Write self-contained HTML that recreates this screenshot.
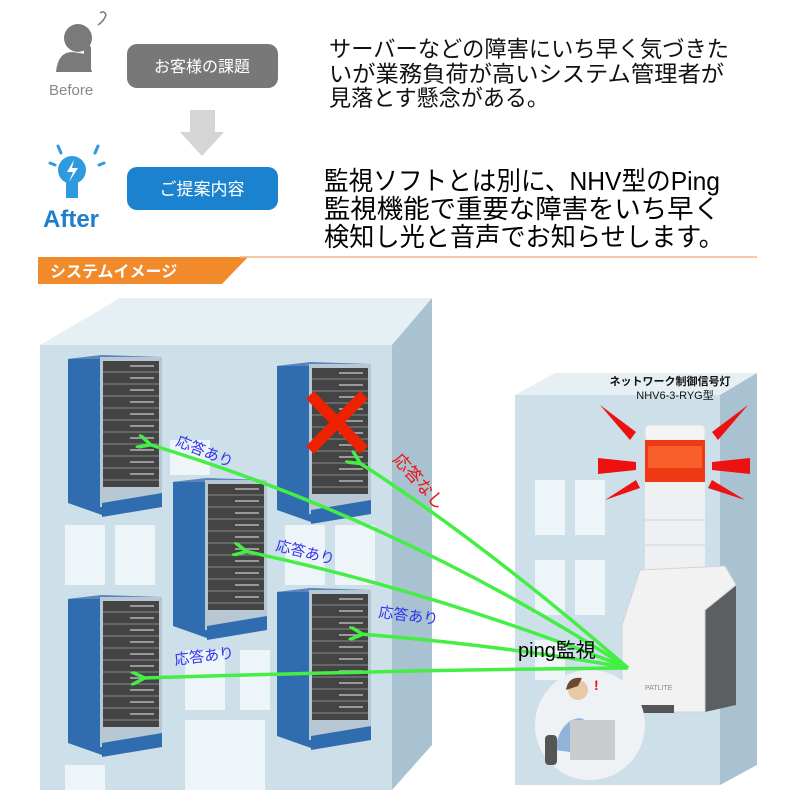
<!DOCTYPE html>
<html><head><meta charset="utf-8"><style>
body{margin:0;background:#fff;}
svg text{font-family:"Liberation Sans","Noto Sans CJK JP",sans-serif;}
</style></head><body>
<svg width="800" height="800" viewBox="0 0 800 800" xmlns="http://www.w3.org/2000/svg">
<defs>
<g id="rack">
  <polygon points="0,4 34,0 34,160 0,148" fill="#2f6db0"/>
  <polygon points="0,4 34,0 94,2 94,6 34,4" fill="#5a86bd"/>
  <rect x="32" y="2" width="62" height="150" fill="#b7c7d3"/>
  <rect x="35" y="6" width="56" height="126" fill="#444"/>
  <g stroke="#8a8a8a" stroke-width="1">
    <line x1="35" y1="17" x2="91" y2="17"/><line x1="35" y1="29" x2="91" y2="29"/>
    <line x1="35" y1="41" x2="91" y2="41"/><line x1="35" y1="53" x2="91" y2="53"/>
    <line x1="35" y1="65" x2="91" y2="65"/><line x1="35" y1="77" x2="91" y2="77"/>
    <line x1="35" y1="89" x2="91" y2="89"/><line x1="35" y1="101" x2="91" y2="101"/>
    <line x1="35" y1="113" x2="91" y2="113"/><line x1="35" y1="125" x2="91" y2="125"/>
  </g>
  <g fill="#999"><rect x="62" y="10" width="24" height="2"/><rect x="62" y="22" width="24" height="2"/><rect x="62" y="34" width="24" height="2"/><rect x="62" y="46" width="24" height="2"/><rect x="62" y="58" width="24" height="2"/><rect x="62" y="70" width="24" height="2"/><rect x="62" y="82" width="24" height="2"/><rect x="62" y="94" width="24" height="2"/><rect x="62" y="106" width="24" height="2"/><rect x="62" y="118" width="24" height="2"/></g>
  <polygon points="34,148 94,138 94,152 34,162" fill="#2f6db0"/>
</g>
<marker id="ah" viewBox="0 0 10 10" refX="2" refY="5" markerWidth="4" markerHeight="4" orient="auto-start-reverse"><path d="M10,0 L0,5 L10,10" fill="none" stroke="#44ee44" stroke-width="2.5"/></marker>
</defs>

<!-- header -->
<circle cx="78" cy="38" r="14" fill="#7a7a7a"/>
<path d="M56,72 Q58,52 72,52 L86,54 L92,72 Z" fill="#7a7a7a"/>
<rect x="84" y="45" width="7" height="27" rx="3" fill="#7a7a7a"/>
<path d="M98,25 q6,-4 8,-10 q-2,-5 -6,-2" fill="none" stroke="#7a7a7a" stroke-width="1.5"/>
<text x="49" y="95" font-size="15" fill="#888">Before</text>
<rect x="127" y="44" width="151" height="44" rx="10" fill="#787878"/>
<text x="202" y="72" font-size="16" fill="#fff" text-anchor="middle">お客様の課題</text>
<polygon points="190,110 215,110 215,132 224,132 202,156 180,132 190,132" fill="#d5d5d5"/>
<circle cx="72" cy="170" r="14" fill="#2e9be0"/>
<rect x="66" y="180" width="12" height="18" fill="#2e9be0"/>
<polygon points="74,160 67,172 73,172 69,182 78,168 72,168" fill="#fff"/>
<g stroke="#2e9be0" stroke-width="3" stroke-linecap="round"><line x1="58" y1="146" x2="61" y2="153"/><line x1="98" y1="146" x2="95" y2="153"/><line x1="50" y1="163" x2="55" y2="165"/><line x1="104" y1="163" x2="99" y2="165"/></g>
<text x="43" y="227" font-size="24" font-weight="bold" fill="#1f7fcc">After</text>
<rect x="127" y="167" width="151" height="43" rx="10" fill="#1a82cf"/>
<text x="202" y="195" font-size="17" fill="#fff" text-anchor="middle">ご提案内容</text>

<g font-size="22.5" fill="#111">
<text x="329" y="57" textLength="400" lengthAdjust="spacingAndGlyphs">サーバーなどの障害にいち早く気づきた</text>
<text x="329" y="82" textLength="395" lengthAdjust="spacingAndGlyphs">いが業務負荷が高いシステム管理者が</text>
<text x="329" y="106" textLength="220" lengthAdjust="spacingAndGlyphs">見落とす懸念がある。</text>
</g>
<g font-size="26" fill="#000">
<text x="324" y="190" textLength="396" lengthAdjust="spacingAndGlyphs">監視ソフトとは別に、NHV型のPing</text>
<text x="324" y="218" textLength="396" lengthAdjust="spacingAndGlyphs">監視機能で重要な障害をいち早く</text>
<text x="324" y="246" textLength="400" lengthAdjust="spacingAndGlyphs">検知し光と音声でお知らせします。</text>
</g>
<polygon points="38,257 248,257 222,284 38,284" fill="#f08a2a"/>
<line x1="240" y1="257" x2="757" y2="257" stroke="#f3b58a" stroke-width="1.5"/>
<text x="50" y="277" font-size="16" font-weight="bold" fill="#fff">システムイメージ</text>

<!-- building 1 -->
<polygon points="40,345 120,298 432,298 392,345" fill="#e6eff4"/>
<polygon points="392,345 432,298 432,745 392,790" fill="#a9c2d2"/>
<rect x="40" y="345" width="352" height="445" fill="#cddfe9"/>
<g fill="#eef5f8">
<rect x="65" y="525" width="40" height="60"/><rect x="115" y="525" width="40" height="60"/><rect x="185" y="650" width="40" height="60"/>
<rect x="240" y="650" width="30" height="60"/><rect x="285" y="525" width="40" height="60"/><rect x="335" y="525" width="40" height="60"/>
<rect x="65" y="765" width="40" height="25"/><rect x="185" y="720" width="80" height="70"/>
<rect x="290" y="455" width="40" height="50"/><rect x="170" y="440" width="40" height="35"/>
</g>
<!-- building 2 -->
<polygon points="515,395 555,373 757,373 720,395" fill="#e6eff4"/>
<polygon points="720,395 757,373 757,765 720,785" fill="#a9c2d2"/>
<rect x="515" y="395" width="205" height="390" fill="#cddfe9"/>
<g fill="#eef5f8"><rect x="535" y="480" width="30" height="55"/><rect x="575" y="480" width="30" height="55"/><rect x="535" y="560" width="30" height="55"/><rect x="575" y="560" width="30" height="55"/><rect x="535" y="640" width="30" height="40"/></g>

<use href="#rack" x="68" y="355"/>
<use href="#rack" x="277" y="362"/>
<use href="#rack" x="173" y="478"/>
<use href="#rack" x="68" y="595"/>
<use href="#rack" x="277" y="588"/>
<g stroke="#ee2200" stroke-width="11"><line x1="310" y1="395" x2="364" y2="450"/><line x1="364" y1="395" x2="310" y2="450"/></g>

<!-- tower -->
<g fill="#ee1111">
<polygon points="600,405 636,432 630,440"/><polygon points="598,458 636,462 636,470 598,474"/>
<polygon points="605,500 636,480 640,488"/>
<polygon points="748,405 712,432 718,440"/><polygon points="750,458 712,462 712,470 750,474"/>
<polygon points="745,500 712,480 708,488"/>
</g>
<rect x="645" y="425" width="60" height="16" rx="4" fill="#f4f4f4" stroke="#ddd"/>
<rect x="645" y="440" width="60" height="42" fill="#ee3a14"/>
<rect x="648" y="446" width="54" height="22" fill="#ff7a3a" opacity="0.6"/>
<rect x="645" y="482" width="60" height="90" fill="#eef0f1"/>
<g stroke="#cfd4d6"><line x1="645" y1="520" x2="705" y2="520"/><line x1="645" y1="545" x2="705" y2="545"/></g>
<polygon points="705,575 736,585 736,705 705,712" fill="#5c5f62"/>
<polygon points="622,625 640,570 725,566 736,585 705,610 705,712 622,712" fill="#f2f2f2" stroke="#d4d4d4"/>
<rect x="628" y="705" width="46" height="8" fill="#555"/>
<text x="645" y="690" font-size="7" fill="#888">PATLITE</text>
<text x="670" y="385" font-size="11" font-weight="bold" fill="#111" text-anchor="middle">ネットワーク制御信号灯</text>
<text x="675" y="399" font-size="11" fill="#111" text-anchor="middle">NHV6-3-RYG型</text>

<!-- person -->
<circle cx="590" cy="725" r="55" fill="#eef2f5"/>
<circle cx="578" cy="690" r="10" fill="#e7c9a8"/><path d="M566,690 q2,-14 16,-12 l-4,8 z" fill="#6b4a33"/>
<path d="M555,750 q5,-30 25,-32 l20,8 v30 z" fill="#8fb3d9"/>
<rect x="570" y="720" width="45" height="40" fill="#c9cdd0"/>
<rect x="545" y="735" width="12" height="30" rx="4" fill="#555"/>
<text x="594" y="690" font-size="14" font-weight="bold" fill="#ee1111">!</text>

<!-- arrows -->
<g stroke="#44ee44" stroke-width="3.5" fill="none" marker-end="url(#ah)">
<path d="M628,668 Q400,520 148,444"/>
<path d="M628,668 Q480,540 358,462"/>
<path d="M628,668 Q430,590 244,551"/>
<path d="M628,668 Q500,645 360,634"/>
<path d="M628,668 Q400,670 142,678"/>
</g>
<text x="518" y="657" font-size="20" fill="#000">ping監視</text>
<g font-size="15" fill="#3333ee">
<text x="175" y="445" transform="rotate(22 175 445)">応答あり</text>
<text x="275" y="550" transform="rotate(14 275 550)">応答あり</text>
<text x="378" y="617" transform="rotate(7 378 617)">応答あり</text>
<text x="175" y="665" transform="rotate(-7 175 665)">応答あり</text>
</g>
<text x="392" y="460" font-size="17" fill="#ee1111" transform="rotate(48 392 460)">応答なし</text>
</svg>
</body></html>
